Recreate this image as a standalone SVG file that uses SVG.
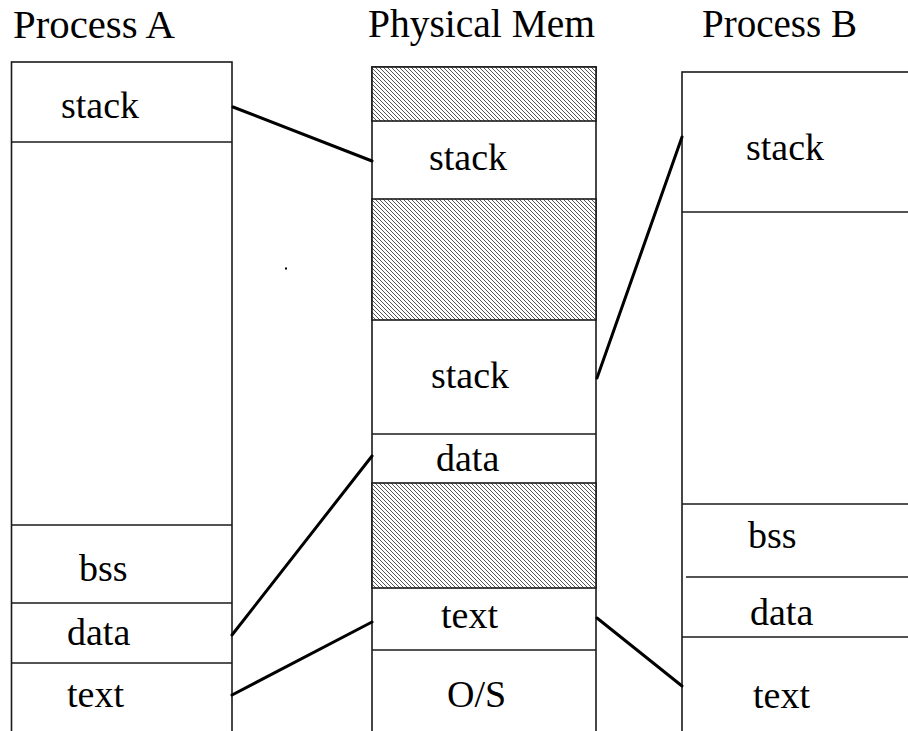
<svg xmlns="http://www.w3.org/2000/svg" width="908" height="731" viewBox="0 0 908 731">
  <style>
    .box { fill: #ffffff; stroke: #1a1a1a; stroke-width: 1.6; }
    .div { stroke: #1a1a1a; stroke-width: 1.6; }
    .hatch { fill: url(#hatch); stroke: #1a1a1a; stroke-width: 1.6; }
    .lbl { font-family: 'Liberation Serif', 'Times New Roman', Times, 'DejaVu Serif', serif; font-size: 38px; fill: #000; }
    .ttl { font-family: 'Liberation Serif', 'Times New Roman', Times, 'DejaVu Serif', serif; font-size: 39px; fill: #000; }
    .conn { stroke: #000; stroke-width: 3; fill: none; stroke-linecap: round; }
  </style>
  <defs>
    <!-- fine diagonal hatching for unused physical memory -->
    <pattern id="hatch" patternUnits="userSpaceOnUse" width="4" height="4">
      <rect width="4" height="4" fill="#ffffff"/>
      <path d="M-1,-1 L5,5 M-1,3 L1,5 M3,-1 L5,1" stroke="#2a2a2a" stroke-width="0.8"/>
    </pattern>
  </defs>

  <rect width="908" height="731" fill="#ffffff"/>

  <!-- column titles -->
  <text class="ttl" font-family="Liberation Serif, serif" x="13" y="38" textLength="162" lengthAdjust="spacingAndGlyphs">Process A</text>
  <text class="ttl" font-family="Liberation Serif, serif" x="368" y="37" textLength="227" lengthAdjust="spacingAndGlyphs">Physical Mem</text>
  <text class="ttl" font-family="Liberation Serif, serif" x="702" y="37" textLength="155" lengthAdjust="spacingAndGlyphs">Process B</text>

  <!-- Process A address space -->
  <g id="process-a" font-family="Liberation Serif, serif">
    <rect class="box" x="11.5" y="62" width="220.5" height="690"/>
    <line class="div" x1="11.5" y1="142" x2="232" y2="142"/>
    <line class="div" x1="11.5" y1="525" x2="232" y2="525"/>
    <line class="div" x1="11.5" y1="603" x2="232" y2="603"/>
    <line class="div" x1="11.5" y1="663" x2="232" y2="663"/>
    <text class="lbl" x="61" y="118">stack</text>
    <text class="lbl" x="79" y="581">bss</text>
    <text class="lbl" x="67" y="645">data</text>
    <text class="lbl" x="67" y="707">text</text>
  </g>

  <!-- Physical memory -->
  <g id="physical-mem" font-family="Liberation Serif, serif">
    <rect class="box" x="372" y="67" width="224" height="690"/>
    <rect class="hatch" x="372" y="67" width="224" height="54"/>
    <rect class="hatch" x="372" y="199" width="224" height="121"/>
    <rect class="hatch" x="372" y="483" width="224" height="105"/>
    <line class="div" x1="372" y1="434" x2="596" y2="434"/>
    <line class="div" x1="372" y1="650" x2="596" y2="650"/>
    <text class="lbl" x="429" y="170">stack</text>
    <text class="lbl" x="431" y="388">stack</text>
    <text class="lbl" x="436" y="471">data</text>
    <text class="lbl" x="441" y="628">text</text>
    <text class="lbl" x="447" y="707">O/S</text>
  </g>

  <!-- Process B address space -->
  <g id="process-b" font-family="Liberation Serif, serif">
    <rect class="box" x="682" y="72" width="260" height="690"/>
    <line class="div" x1="682" y1="212" x2="908" y2="212"/>
    <line class="div" x1="682" y1="504" x2="908" y2="504"/>
    <line class="div" x1="686" y1="577" x2="908" y2="577"/>
    <line class="div" x1="682" y1="637" x2="908" y2="637"/>
    <text class="lbl" x="746" y="160">stack</text>
    <text class="lbl" x="748" y="548">bss</text>
    <text class="lbl" x="750" y="625">data</text>
    <text class="lbl" x="753" y="708">text</text>
  </g>

  <!-- mappings from virtual segments to physical frames -->
  <g id="connectors">
    <line class="conn" x1="233" y1="107" x2="372" y2="161"/>
    <line class="conn" x1="232" y1="635" x2="372" y2="456"/>
    <line class="conn" x1="232" y1="695" x2="372" y2="622"/>
    <line class="conn" x1="597" y1="618" x2="682" y2="686"/>
    <line class="conn" x1="597" y1="378" x2="682" y2="137"/>
  </g>

  <!-- stray speck -->
  <rect x="285" y="267.5" width="2" height="2" fill="#000"/>
</svg>
